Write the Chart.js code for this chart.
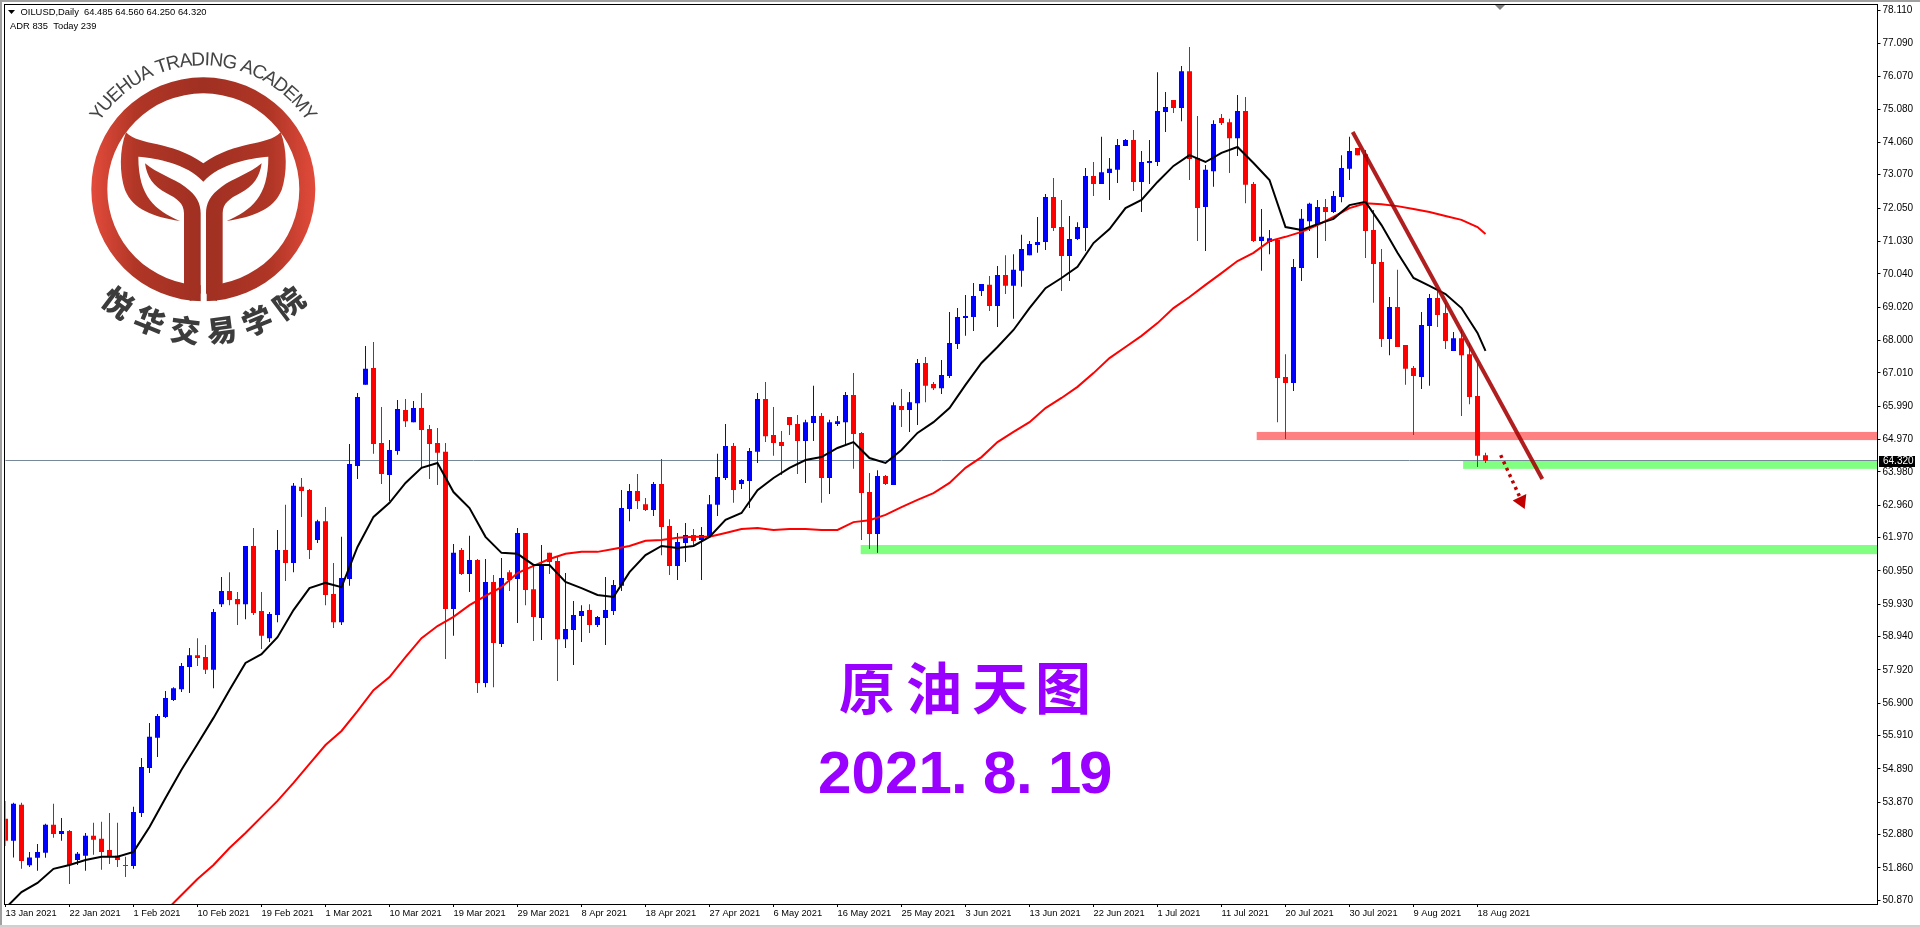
<!DOCTYPE html>
<html>
<head>
<meta charset="utf-8">
<title>OILUSD Daily</title>
<script src="https://cdn.jsdelivr.net/npm/chart.js@4"></script>
<style>
    html, body { margin: 0; padding: 0; background: #fff; overflow: hidden; }
    canvas { display: block; }
</style>
</head>
<body>
<canvas id="priceChart" width="1920" height="927"></canvas>
<script>
// candles, one entry per day
const opens = [
    53.36,52.69,53.79,51.94,52.17,52.32,53.18,52.90,52.99,52.10,
    52.23,52.84,52.75,52.41,52.23,51.95,51.92,53.54,54.92,55.84,
    56.48,57.00,57.33,58.01,58.37,58.31,57.92,59.93,60.33,60.09,
    59.93,61.71,59.72,58.89,59.60,61.59,61.19,63.52,63.42,61.89,
    62.47,60.24,59.38,60.70,64.16,66.64,67.16,64.86,63.88,64.62,
    65.87,65.50,65.93,65.29,64.86,64.59,59.78,61.59,60.85,61.28,
    57.52,60.61,58.71,60.91,60.70,62.11,60.39,59.51,61.50,61.25,
    58.86,59.14,59.57,59.75,59.29,59.51,59.72,60.49,62.84,63.39,
    62.99,62.81,63.61,62.32,61.10,61.80,62.05,61.89,61.99,62.97,
    63.79,64.77,63.61,63.70,64.59,66.21,65.11,64.89,65.66,65.44,
    64.92,65.47,65.69,63.79,65.44,65.50,66.33,65.17,63.36,62.08,
    63.85,63.58,65.99,65.87,66.08,67.31,66.67,66.54,66.91,67.89,
    68.69,68.72,69.51,69.70,69.05,70.00,69.67,70.13,70.61,70.92,
    71.01,72.39,71.47,70.58,71.10,71.44,73.03,72.79,73.12,73.22,
    73.95,74.13,72.85,73.43,73.46,74.99,75.36,75.11,76.24,73.58,
    72.08,73.18,74.81,74.68,74.19,75.02,72.79,71.04,71.01,71.07,
    66.88,66.70,70.22,71.65,71.56,72.08,71.93,72.39,73.25,73.89,
    73.70,71.38,70.40,68.04,69.02,67.86,67.16,66.88,68.44,69.30,
    68.84,67.68,68.07,67.58,66.30,64.485
];
const highs = [
    53.91,53.85,53.85,52.35,52.59,53.21,53.82,53.39,53.02,52.35,
    52.93,53.24,53.27,53.54,53.24,52.20,53.73,55.22,56.29,56.57,
    57.27,57.39,58.13,58.59,58.89,58.68,59.78,60.76,60.91,60.30,
    61.71,62.26,60.30,59.69,62.20,62.97,63.64,63.79,63.45,62.51,
    62.90,61.19,61.99,64.83,66.39,67.83,67.95,65.96,64.95,66.18,
    66.21,66.15,66.39,65.41,65.32,64.86,61.77,61.65,62.02,61.31,
    61.31,60.82,61.34,60.97,62.26,62.11,61.13,61.74,61.50,61.37,
    60.88,60.03,59.90,59.93,59.57,60.76,60.67,63.42,63.61,63.91,
    63.18,63.67,64.37,62.53,62.11,62.41,62.23,62.29,63.27,64.53,
    65.44,64.86,63.76,64.71,66.39,66.73,65.96,65.23,65.66,65.72,
    65.57,66.61,65.78,65.57,65.69,66.42,67.00,65.20,63.94,64.03,
    63.88,66.11,66.51,66.42,67.43,67.49,66.73,67.40,68.87,68.99,
    69.39,69.76,69.73,69.97,70.28,70.61,70.64,71.23,71.04,71.78,
    72.48,72.97,72.30,71.81,71.62,73.28,73.46,74.23,73.58,74.16,
    74.16,74.44,73.80,74.13,76.21,75.60,75.36,76.40,76.98,74.87,
    73.37,74.74,74.93,74.78,75.51,75.45,72.85,72.02,71.38,71.13,
    67.58,70.49,72.02,72.21,72.30,72.33,72.57,73.67,74.23,73.89,
    73.83,71.99,70.80,69.33,70.16,67.86,67.22,68.87,69.42,69.54,
    69.15,68.26,68.32,67.92,67.31,64.56
];
const lows = [
    52.53,52.18,51.83,51.89,51.77,52.17,52.78,52.69,51.37,51.95,
    51.77,52.26,51.80,51.98,51.89,51.58,51.83,53.42,54.76,55.25,
    56.45,56.97,57.24,57.21,58.04,57.79,57.36,59.84,59.90,59.29,
    59.47,59.60,58.56,58.77,59.38,60.64,60.91,62.60,61.31,61.80,
    59.90,59.20,59.29,60.49,63.76,66.64,64.53,63.61,63.09,64.50,
    65.35,65.50,64.07,63.76,63.58,58.25,58.96,60.82,60.30,57.21,
    57.39,57.39,58.62,60.33,59.35,59.90,58.80,58.83,60.85,57.58,
    58.59,58.07,58.77,59.05,59.23,58.68,59.60,60.33,62.47,62.84,
    62.78,62.63,61.43,60.82,60.67,61.22,61.68,60.67,61.96,62.63,
    63.73,63.03,63.45,62.87,64.25,64.89,64.47,63.88,65.11,63.91,
    63.64,64.92,63.03,63.30,65.38,64.80,64.07,61.89,61.62,61.50,
    63.58,63.58,65.35,65.20,65.41,66.11,66.48,66.36,66.85,67.74,
    68.14,68.29,69.36,68.90,68.41,69.42,68.66,69.64,70.61,70.68,
    70.77,71.35,69.51,69.82,71.07,70.74,72.42,72.79,72.30,72.82,
    73.95,72.57,71.93,72.79,73.34,74.38,74.96,74.71,72.91,71.04,
    70.74,72.70,74.59,73.12,73.64,72.20,71.01,70.13,70.64,65.50,
    64.98,66.45,69.82,71.35,70.52,71.04,71.90,72.23,72.91,73.67,
    70.52,69.15,67.80,67.55,67.80,66.64,65.11,66.51,66.61,68.41,
    67.74,67.68,65.69,66.05,64.13,64.25
];
const closes = [
    52.69,53.82,52.07,52.18,52.35,53.18,52.90,52.99,51.95,52.29,
    52.84,52.72,52.35,52.20,52.10,51.92,53.57,54.95,55.87,56.51,
    57.06,57.36,58.04,58.37,58.28,57.92,59.69,60.33,60.06,59.93,
    61.71,59.66,58.96,59.63,61.59,61.19,63.55,63.39,61.59,62.47,
    60.21,59.38,60.73,64.22,66.27,67.13,64.83,63.91,64.65,65.90,
    65.53,65.93,65.26,64.83,64.56,59.78,61.50,60.85,61.28,57.52,
    60.61,58.74,60.73,60.67,62.11,60.36,59.54,61.13,61.22,58.86,
    59.17,59.60,59.72,59.29,59.54,59.75,60.52,62.87,63.39,63.09,
    62.81,63.61,62.29,61.10,61.83,62.05,61.86,62.05,62.99,63.82,
    64.77,63.42,63.73,64.62,66.21,65.07,64.86,64.77,65.41,64.92,
    65.50,65.69,63.79,65.50,65.53,66.33,65.14,63.33,62.08,63.85,
    63.61,66.02,65.87,66.11,67.31,66.61,66.54,66.94,67.92,68.72,
    68.75,69.36,69.73,69.05,70.00,69.67,70.16,70.80,70.95,71.01,
    72.39,71.44,70.58,71.10,71.47,73.03,72.79,73.15,73.25,73.98,
    74.13,72.85,73.46,73.49,75.02,75.14,75.11,76.24,73.55,72.05,
    73.22,74.62,74.65,74.19,75.02,72.76,71.04,71.17,71.13,66.85,
    66.70,70.25,71.72,72.18,72.08,71.93,72.42,73.28,73.80,73.67,
    71.35,70.34,68.04,69.02,67.80,67.13,66.91,68.47,69.30,68.78,
    67.98,68.07,67.55,66.27,64.47,64.32
];

// moving averages, read at every second candle from candle 0 (fast) and candle 20 (slow)
const fastMa = [
    50.63,51.12,51.40,51.83,51.95,52.10,52.20,52.20,52.35,53.11,
    54.00,54.86,55.65,56.45,57.30,58.13,58.40,58.92,59.75,60.42,
    60.58,60.45,61.68,62.60,63.03,63.64,64.10,64.25,63.36,62.87,
    61.99,61.50,61.47,61.13,61.13,60.61,60.42,60.21,60.15,60.91,
    61.43,61.71,61.65,61.71,61.99,62.51,62.72,63.42,63.79,64.10,
    64.34,64.43,64.71,64.89,64.40,64.25,64.65,65.17,65.50,65.93,
    66.64,67.31,67.80,68.32,68.99,69.60,69.91,70.25,70.98,71.41,
    72.05,72.30,72.85,73.34,73.67,73.46,73.74,73.92,73.43,72.91,
    71.47,71.38,71.56,71.72,72.14,72.24,71.53,70.68,69.91,69.67,
    69.42,68.99,68.23
];
const fastMaLast = 67.68;
const slowMa = [
    50.54,51.03,51.52,51.95,52.47,52.93,53.42,53.91,54.46,55.04,
    55.62,56.05,56.66,57.30,57.70,58.31,58.89,59.26,59.54,59.90,
    60.18,60.45,60.88,61.10,61.31,61.47,61.53,61.53,61.62,61.71,
    61.87,61.89,61.96,61.99,61.99,62.11,62.23,62.26,62.20,62.23,
    62.23,62.20,62.20,62.44,62.50,62.66,62.90,63.12,63.33,63.64,
    64.10,64.43,64.89,65.20,65.50,65.93,66.24,66.58,67.00,67.46,
    67.80,68.14,68.53,68.99,69.33,69.70,70.06,70.43,70.68,71.04,
    71.17,71.32,71.53,71.78,72.05,72.20,72.17,72.11,72.02,71.93,
    71.81,71.69,71.47
];
const slowMaLast = 71.26;

// one label every 8 candles
const dateLabels = [
    '13 Jan 2021','22 Jan 2021','1 Feb 2021','10 Feb 2021','19 Feb 2021','1 Mar 2021',
    '10 Mar 2021','19 Mar 2021','29 Mar 2021','8 Apr 2021','18 Apr 2021','27 Apr 2021',
    '6 May 2021','16 May 2021','25 May 2021','3 Jun 2021','13 Jun 2021','22 Jun 2021',
    '1 Jul 2021','11 Jul 2021','20 Jul 2021','30 Jul 2021','9 Aug 2021','18 Aug 2021'
];
const priceTicks = [
    78.110,77.090,76.070,75.080,74.060,73.070,72.050,71.030,70.040,69.020,68.000,67.010,65.990,64.970,
    63.980,62.960,61.970,60.950,59.930,58.940,57.920,56.900,55.910,54.890,53.870,52.880,51.860,50.870
];

const lastPrice = 64.32;
// zones: [first candle, top price, bottom price, colour]
const zones = [
    [156.4, 65.20, 64.95, '#ff8080'],
    [182.2, 64.31, 64.07, '#80ff80'],
    [106.9, 61.74, 61.46, '#80ff80']
];
// hand drawn lines, as [candle, price]
const trendLine = [[168.4, 74.38], [192.1, 63.76]];
const dottedArrow = [[186.9, 64.49], [189.3, 63.20]];
const arrowHead = [[189.9, 62.84], [188.4, 63.10], [190.1, 63.30]];

const FONT = '"Liberation Sans"';
const SLOTS = 234; // candle slots across the chart

const labels = [];
for (let i = 0; i <= SLOTS; i++) {
    labels.push(i % 8 === 0 && dateLabels[i / 8] ? dateLabels[i / 8] : '');
}

// spread a list read at every second candle over the candle index
function everySecond(list, start, last) {
    const out = new Array(opens.length).fill(null);
    list.forEach((v, k) => { out[start + k * 2] = v; });
    out[opens.length - 1] = last;
    return out;
}

const candleColors = opens.map((o, i) => (closes[i] > o ? '#0000ff' : '#ff0000'));

// zones and last price line, under the candles
const underlayPlugin = {
    id: 'underlay',
    beforeDatasetsDraw(chart) {
        const { ctx, chartArea, scales: { x, y } } = chart;
        ctx.save();
        zones.forEach(z => {
            const left = x.getPixelForValue(z[0]);
            const top = y.getPixelForValue(z[1]);
            ctx.fillStyle = z[3];
            ctx.fillRect(left, top, chartArea.right - left, y.getPixelForValue(z[2]) - top);
        });
        ctx.strokeStyle = '#778899';
        ctx.lineWidth = 1;
        const py = Math.floor(y.getPixelForValue(lastPrice)) + 0.5;
        ctx.beginPath();
        ctx.moveTo(chartArea.left, py);
        ctx.lineTo(chartArea.right, py);
        ctx.stroke();
        ctx.restore();
    }
};

function logoGradient(ctx, from, to) {
    const grad = ctx.createLinearGradient(from, 0, to, 0);
    grad.addColorStop(0, '#e34b3b');
    grad.addColorStop(0.2, '#b03626');
    grad.addColorStop(0.5, '#a03022');
    grad.addColorStop(0.8, '#b03626');
    grad.addColorStop(1, '#e34b3b');
    return grad;
}

function drawLogo(ctx) {
    const cx = 203.3, cy = 189.3;

    ctx.save();
    ctx.fillStyle = logoGradient(ctx, 91, 316);
    ctx.beginPath();
    ctx.arc(cx, cy, 112, 0, Math.PI * 2);
    ctx.arc(cx, cy, 96, 0, Math.PI * 2, true);
    ctx.fill();
    ctx.fillStyle = '#fff';
    ctx.fillRect(200.7, 280, 6, 30);

    // shapes traced at 3x, hence the scale
    ctx.scale(1 / 3, 1 / 3);
    ctx.fillStyle = logoGradient(ctx, 273, 948);

    // whale tail band
    ctx.beginPath();
    ctx.moveTo(378, 397);
    ctx.bezierCurveTo(420, 440, 510, 420, 610, 490);
    ctx.bezierCurveTo(710, 420, 800, 440, 842, 397);
    ctx.bezierCurveTo(862, 450, 862, 520, 845, 570);
    ctx.bezierCurveTo(820, 630, 760, 650, 680, 663);
    ctx.bezierCurveTo(755, 630, 805, 590, 805, 470);
    ctx.bezierCurveTo(750, 475, 660, 490, 610, 545);
    ctx.bezierCurveTo(560, 490, 470, 475, 415, 470);
    ctx.bezierCurveTo(415, 590, 465, 630, 540, 663);
    ctx.bezierCurveTo(460, 650, 400, 630, 375, 570);
    ctx.bezierCurveTo(358, 520, 358, 450, 378, 397);
    ctx.closePath();
    ctx.fill();

    // the two stems, mirrored round x = 610
    [1, -1].forEach(side => {
        const mx = v => (side === 1 ? v : 1220 - v);
        ctx.beginPath();
        ctx.moveTo(mx(435), 490);
        ctx.bezierCurveTo(mx(470), 520, mx(520), 535, mx(555), 560);
        ctx.bezierCurveTo(mx(590), 585, mx(602), 610, mx(602), 640);
        ctx.lineTo(mx(602), 880);
        ctx.quadraticCurveTo(mx(590), 897, mx(570), 903);
        ctx.lineTo(mx(552), 860);
        ctx.lineTo(mx(552), 640);
        ctx.bezierCurveTo(mx(552), 610, mx(530), 595, mx(500), 580);
        ctx.bezierCurveTo(mx(460), 560, mx(440), 530, mx(435), 490);
        ctx.closePath();
        ctx.fill();
    });
    ctx.restore();

    // english name round the top
    const name = 'YUEHUA TRADING ACADEMY';
    ctx.save();
    ctx.fillStyle = '#444';
    ctx.font = '19px ' + FONT;
    ctx.textAlign = 'left';
    ctx.textBaseline = 'alphabetic';
    const total = ctx.measureText(name).width;
    const radius = 124;
    const span = 114 * Math.PI / 180;
    let run = 0;
    for (const ch of name) {
        const w = ctx.measureText(ch).width;
        const ang = -span / 2 + (run + w / 2) / total * span;
        ctx.save();
        ctx.translate(cx + Math.sin(ang) * radius, cy - Math.cos(ang) * radius);
        ctx.rotate(ang);
        ctx.fillText(ch, -w / 2, 0);
        ctx.restore();
        run += w;
    }
    ctx.restore();

    // chinese name round the bottom
    const cn = '悦华交易学院';
    ctx.save();
    ctx.fillStyle = '#3c3c3c';
    ctx.font = '900 30px "Noto Sans CJK SC"';
    ctx.textAlign = 'center';
    ctx.textBaseline = 'middle';
    [...cn].forEach((ch, k) => {
        const ang = (37 - k * 14.8) * Math.PI / 180;
        ctx.save();
        ctx.translate(cx - Math.sin(ang) * 142, cy + Math.cos(ang) * 142);
        ctx.rotate(ang);
        ctx.fillText(ch, 0, 0);
        ctx.restore();
    });
    ctx.restore();
}

const overlayPlugin = {
    id: 'overlay',
    afterDatasetsDraw(chart) {
        const { ctx, scales: { x, y } } = chart;
        const px = p => [x.getPixelForValue(p[0]), y.getPixelForValue(p[1])];

        ctx.save();
        ctx.lineCap = 'butt';
        ctx.strokeStyle = 'rgba(165,0,0,0.88)';
        ctx.lineWidth = 4;
        ctx.beginPath();
        ctx.moveTo(...px(trendLine[0]));
        ctx.lineTo(...px(trendLine[1]));
        ctx.stroke();

        ctx.strokeStyle = '#c00000';
        ctx.lineWidth = 3.5;
        ctx.setLineDash([3, 4]);
        ctx.beginPath();
        ctx.moveTo(...px(dottedArrow[0]));
        ctx.lineTo(...px(dottedArrow[1]));
        ctx.stroke();
        ctx.setLineDash([]);

        ctx.fillStyle = '#c00000';
        ctx.beginPath();
        arrowHead.forEach((p, i) => {
            if (i === 0) ctx.moveTo(...px(p));
            else ctx.lineTo(...px(p));
        });
        ctx.closePath();
        ctx.fill();
        ctx.restore();

        drawLogo(ctx);

        // big purple captions
        ctx.save();
        ctx.fillStyle = '#9900ff';
        ctx.textBaseline = 'middle';
        ctx.textAlign = 'center';
        ctx.font = 'bold 56px "Noto Sans CJK SC"';
        const titleX = [867, 934, 1000, 1063];
        [...'原油天图'].forEach((ch, k) => ctx.fillText(ch, titleX[k], 688));

        ctx.textBaseline = 'alphabetic';
        ctx.textAlign = 'left';
        ctx.font = 'bold 60px ' + FONT;
        const dateX = [818, 851.5, 885, 918.5, 951, 983, 1016, 1048, 1079];
        [...'2021.8.19'].forEach((ch, k) => ctx.fillText(ch, dateX[k], 793));
        ctx.restore();
    },
    afterDraw(chart) {
        const { ctx, scales: { y } } = chart;
        ctx.save();
        // window edges
        ctx.fillStyle = '#a0a0a0';
        ctx.fillRect(0, 0, 1920, 2);
        ctx.fillRect(0, 0, 2, 927);
        ctx.fillStyle = '#d0d0d0';
        ctx.fillRect(0, 925, 1920, 2);
        // frame
        ctx.strokeStyle = '#000';
        ctx.lineWidth = 1;
        ctx.strokeRect(4.5, 4.5, 1873, 900);

        // grey marker on the top edge
        ctx.fillStyle = '#808080';
        ctx.beginPath();
        ctx.moveTo(1495, 5);
        ctx.lineTo(1505, 5);
        ctx.lineTo(1500, 10);
        ctx.closePath();
        ctx.fill();

        // header text
        ctx.fillStyle = '#000';
        ctx.font = '9.4px ' + FONT;
        ctx.textBaseline = 'middle';
        ctx.textAlign = 'left';
        ctx.fillText('OILUSD,Daily  64.485 64.560 64.250 64.320', 20.5, 12.5);
        ctx.fillText('ADR 835  Today 239', 10, 26);
        ctx.beginPath();
        ctx.moveTo(8, 10);
        ctx.lineTo(15, 10);
        ctx.lineTo(11.5, 14);
        ctx.closePath();
        ctx.fill();

        // last price tag
        const py = Math.floor(y.getPixelForValue(lastPrice));
        ctx.fillStyle = '#000';
        ctx.fillRect(1879, py - 4, 36, 11);
        ctx.fillStyle = '#fff';
        ctx.font = '10px ' + FONT;
        ctx.fillText(lastPrice.toFixed(3), 1883, py + 1.5);
        ctx.restore();
    }
};

const ctx = document.getElementById('priceChart').getContext('2d');
const priceChart = new Chart(ctx, {
    data: {
        labels: labels,
        datasets: [
            {
                type: 'line',
                label: 'Fast MA',
                data: everySecond(fastMa, 0, fastMaLast),
                borderColor: '#000',
                borderWidth: 2,
                pointRadius: 0,
                spanGaps: true,
                order: 0
            },
            {
                type: 'line',
                label: 'Slow MA',
                data: everySecond(slowMa, 20, slowMaLast),
                borderColor: '#ff0000',
                borderWidth: 2,
                pointRadius: 0,
                spanGaps: true,
                order: 1
            },
            {
                type: 'bar',
                label: 'Body',
                data: opens.map((o, i) => [o, closes[i]]),
                backgroundColor: candleColors,
                barThickness: 5,
                borderWidth: 0,
                inflateAmount: 0,
                grouped: false,
                order: 2
            },
            {
                type: 'bar',
                label: 'Wick',
                data: lows.map((l, i) => [l, highs[i]]),
                backgroundColor: candleColors,
                barThickness: 1,
                borderWidth: 0,
                inflateAmount: 0,
                grouped: false,
                order: 3
            }
        ]
    },
    options: {
        responsive: false,
        animation: false,
        layout: { padding: { left: 5.5, top: 5, right: 0, bottom: 0 } },
        plugins: { legend: { display: false }, tooltip: { enabled: false } },
        scales: {
            x: {
                type: 'category',
                offset: false,
                grid: { display: true, offset: false, drawOnChartArea: false, drawTicks: true, tickLength: 3, color: '#000' },
                border: { display: false },
                ticks: {
                    autoSkip: false,
                    maxRotation: 0,
                    align: 'start',
                    padding: 1,
                    color: '#000',
                    font: { family: FONT, size: 9.3 }
                },
                afterBuildTicks(scale) {
                    scale.ticks = scale.ticks.filter(t => labels[t.value] !== '');
                },
                afterFit(scale) {
                    scale.height = 23;
                    scale.paddingLeft = 0;
                    scale.paddingRight = 0;
                }
            },
            y: {
                position: 'right',
                min: 50.755,
                max: 78.264,
                grid: { display: true, drawOnChartArea: false, drawTicks: true, tickLength: 3, color: '#000' },
                border: { display: false },
                ticks: {
                    padding: 2,
                    color: '#000',
                    font: { family: FONT, size: 10 },
                    callback: v => v.toFixed(3)
                },
                afterBuildTicks(scale) {
                    scale.ticks = priceTicks.map(v => ({ value: v }));
                },
                afterFit(scale) {
                    scale.width = 42.5;
                    scale.paddingTop = 0;
                    scale.paddingBottom = 0;
                }
            }
        }
    },
    plugins: [underlayPlugin, overlayPlugin]
});
</script>
</body>
</html>
